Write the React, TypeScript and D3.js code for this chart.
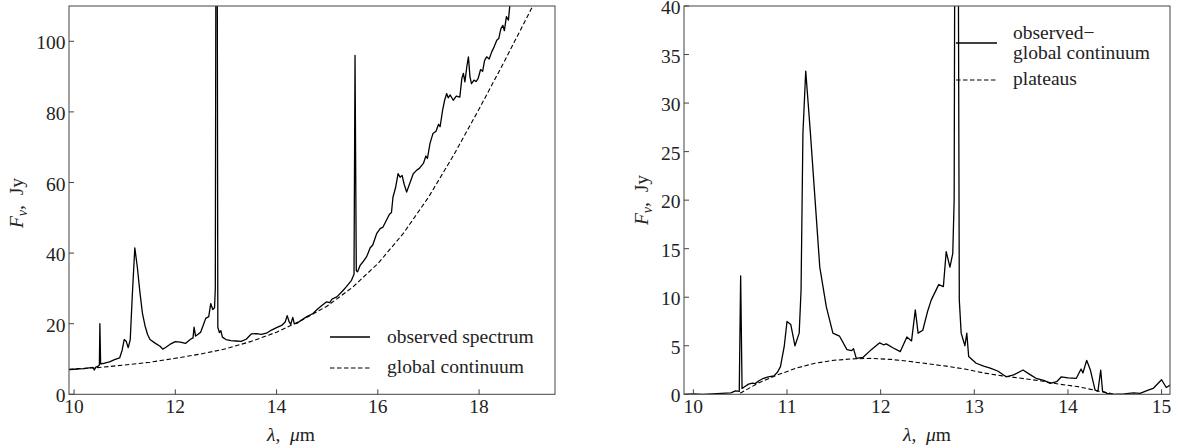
import React from "react";
import * as d3 from "d3";

// ---------- data ----------
const leftXTicks = [10, 12, 14, 16, 18];
const leftYTicks = [0, 20, 40, 60, 80, 100];
const rightXTicks = [10, 11, 12, 13, 14, 15];
const rightYTicks = [0, 5, 10, 15, 20, 25, 30, 35, 40];

const leftLegend = ["observed spectrum", "global continuum"];
const rightLegend = ["observed\u2212", "global continuum", "plateaus"];

// observed spectrum [lambda (um), F (Jy)]
const observedSpectrum: [number, number][] = [
  [9.9, 7.0], [10.0, 7.1], [10.1, 7.2], [10.2, 7.3], [10.3, 7.5], [10.37, 7.6], [10.4, 6.9], [10.43, 7.7],
  [10.48, 8.0], [10.5, 8.3], [10.51, 20.0], [10.525, 8.6], [10.6, 8.8], [10.7, 9.2], [10.8, 9.8], [10.9, 10.3],
  [10.95, 12.5], [10.99, 15.5], [11.03, 15.0], [11.07, 13.2], [11.11, 15.5], [11.15, 28], [11.2, 41.5],
  [11.25, 36], [11.3, 29], [11.35, 23], [11.4, 19.5], [11.45, 17], [11.5, 15.5], [11.6, 14.5], [11.7, 13.6],
  [11.75, 12.8], [11.8, 13.2], [11.9, 14.2], [12.0, 14.9], [12.1, 14.8], [12.2, 14.4], [12.3, 15.6],
  [12.35, 16.0], [12.37, 19.0], [12.4, 16.5], [12.45, 17.0], [12.5, 17.6], [12.55, 19.5], [12.6, 21.5],
  [12.66, 22.0], [12.7, 25.7], [12.74, 24.0], [12.775, 24.5], [12.79, 30], [12.805, 150], [12.825, 150],
  [12.84, 19], [12.87, 17.5], [12.9, 18.0], [12.93, 16.2], [13.0, 15.5], [13.1, 15.2], [13.2, 15.1],
  [13.3, 15.0], [13.4, 15.6], [13.5, 17.1], [13.6, 17.2], [13.7, 17.0], [13.8, 17.3], [13.9, 18.2],
  [14.0, 18.9], [14.1, 19.5], [14.17, 20.5], [14.21, 22.3], [14.25, 20.5], [14.28, 19.8], [14.32, 21.8],
  [14.35, 20.0], [14.4, 20.1], [14.5, 21.1], [14.6, 22.0], [14.72, 22.9], [14.8, 24.0], [14.9, 25.2],
  [14.99, 26.2], [15.05, 26.0], [15.1, 27.0], [15.19, 27.6], [15.3, 29.2], [15.38, 30.5], [15.48, 32.3],
  [15.53, 34.0], [15.55, 96], [15.575, 35.0], [15.6, 34.7], [15.65, 36.5], [15.7, 37.4], [15.78, 39.0],
  [15.85, 41.5], [15.9, 42.3], [15.98, 45.6], [16.05, 47.0], [16.1, 47.3], [16.17, 49.3], [16.23, 51.0],
  [16.27, 51.5], [16.3, 55.9], [16.35, 58.5], [16.4, 62.5], [16.44, 61.5], [16.48, 62.0], [16.52, 59.5],
  [16.57, 57.3], [16.6, 58.5], [16.65, 60.5], [16.7, 62.5], [16.77, 63.5], [16.82, 64.0], [16.9, 65.4],
  [16.95, 67.5], [16.98, 66.8], [17.03, 71.0], [17.09, 73.9], [17.15, 74.5], [17.2, 76.5], [17.23, 75.8],
  [17.28, 80.5], [17.32, 83.3], [17.36, 85.2], [17.39, 84.0], [17.43, 84.8], [17.49, 83.3], [17.55, 84.5],
  [17.62, 84.2], [17.66, 89.5], [17.69, 90.9], [17.72, 88.5], [17.76, 93.0], [17.79, 95.6], [17.82, 90.0],
  [17.85, 88.0], [17.9, 89.0], [17.94, 88.6], [17.98, 89.4], [18.03, 92.0], [18.07, 91.5], [18.11, 94.6],
  [18.15, 95.6], [18.2, 95.0], [18.25, 97.0], [18.3, 98.5], [18.35, 100.3], [18.39, 100.8], [18.43, 103.5],
  [18.47, 104.5], [18.5, 103.0], [18.54, 107.0], [18.58, 106.0], [18.61, 110.5], [18.65, 113], [18.8, 118],
];

// global continuum [lambda, F]
const globalContinuum: [number, number][] = [
  [9.9, 7.1], [10.5, 7.6], [11.0, 8.3], [11.5, 9.1], [12.0, 10.2], [12.5, 11.4], [13.0, 12.9], [13.5, 15.0],
  [14.0, 17.6], [14.5, 21.0], [15.0, 25.0], [15.5, 30.3], [16.0, 37.0], [16.5, 45.5], [17.0, 55.8],
  [17.5, 67.8], [18.0, 80.8], [18.5, 94.3], [19.0, 108.3], [19.2, 114],
];

// observed minus global continuum
const residual: [number, number][] = [
  [9.9, 0], [10.0, 0.05], [10.1, 0], [10.2, 0.05], [10.3, 0.1], [10.4, 0.15], [10.45, 0.35], [10.49, 0.3],
  [10.505, 12.2], [10.52, 0.6], [10.55, 0.8], [10.59, 1.05], [10.63, 1.15], [10.66, 1.1], [10.7, 1.4],
  [10.75, 1.65], [10.8, 1.8], [10.86, 1.9], [10.9, 2.3], [10.93, 2.85], [10.97, 4.9], [11.0, 7.5],
  [11.04, 7.2], [11.085, 5.0], [11.13, 6.3], [11.15, 10.7], [11.17, 26.9], [11.2, 33.3], [11.25, 26.9],
  [11.3, 20], [11.35, 13.1], [11.42, 9.0], [11.49, 6.3], [11.56, 6.0], [11.64, 4.6], [11.69, 4.5],
  [11.71, 4.7], [11.74, 3.7], [11.81, 3.8], [11.9, 4.6], [11.99, 5.3], [12.03, 5.1], [12.06, 5.2],
  [12.13, 4.8], [12.21, 4.4], [12.28, 5.9], [12.33, 5.5], [12.37, 8.7], [12.4, 6.3], [12.45, 6.6],
  [12.5, 8.5], [12.54, 9.7], [12.62, 11.3], [12.67, 11.1], [12.7, 14.7], [12.74, 13.1], [12.77, 14.5],
  [12.785, 20], [12.795, 60], [12.825, 60], [12.84, 9.7], [12.86, 6.3], [12.9, 5.0], [12.92, 6.3],
  [12.94, 3.9], [13.02, 3.2], [13.1, 2.9], [13.17, 2.7], [13.25, 2.4], [13.34, 1.8], [13.42, 2.0],
  [13.52, 2.5], [13.6, 2.0], [13.66, 1.65], [13.75, 1.4], [13.81, 1.13], [13.88, 1.3], [13.93, 1.8],
  [14.0, 1.7], [14.09, 1.65], [14.14, 2.6], [14.16, 2.2], [14.2, 3.5], [14.24, 2.5], [14.29, 0.44],
  [14.32, 0.3], [14.35, 2.5], [14.37, 0.3], [14.42, 0.1], [14.48, 0], [14.6, 0.05], [14.7, 0.15],
  [14.77, 0.1], [14.85, 0.4], [14.91, 0.6], [15.0, 1.5], [15.05, 0.7], [15.1, 1.0],
];

// plateaus
const plateaus: [number, number][] = [
  [10.5, 0.1], [10.7, 1.2], [10.9, 2.0], [11.1, 2.7], [11.3, 3.2], [11.5, 3.5], [11.7, 3.65], [11.9, 3.7],
  [12.1, 3.6], [12.3, 3.4], [12.5, 3.15], [12.7, 2.9], [12.9, 2.6], [13.1, 2.2], [13.3, 1.9], [13.5, 1.65],
  [13.7, 1.4], [13.9, 1.05], [14.1, 0.8], [14.3, 0.4], [14.5, 0],
];

// ---------- layout ----------
const FONT = '"Liberation Serif"';
const FS = 19.5;
const TXT = "#222";
const SPINE = "#444";
const fontStyle = { fontFamily: FONT };

type PanelProps = {
  id: string;
  left: number; right: number; top: number; bottom: number;
  xDomain: [number, number]; yDomain: [number, number];
  xTicks: number[]; yTicks: number[];
  series: { data: [number, number][]; dashed: boolean }[];
  yLabelX: number; yLabelY: number; xLabelX: number;
  legend: React.ReactNode;
};

function Panel(p: PanelProps) {
  const x = d3.scaleLinear().domain(p.xDomain).range([p.left, p.right]);
  const y = d3.scaleLinear().domain(p.yDomain).range([p.bottom, p.top]);
  const line = d3.line<[number, number]>().x((d) => x(d[0])).y((d) => y(d[1]));
  return (
    <g style={fontStyle}>
      <defs>
        <clipPath id={p.id}>
          <rect x={p.left} y={p.top} width={p.right - p.left} height={p.bottom - p.top} />
        </clipPath>
      </defs>
      <g clipPath={`url(#${p.id})`}>
        {p.series.map((s, i) => (
          <path key={i} d={line(s.data) || ""} fill="none" stroke="#000"
            strokeWidth={s.dashed ? 1.1 : 1.3} strokeDasharray={s.dashed ? "4.5,2.5" : undefined}
            strokeLinejoin="round" />
        ))}
      </g>
      <rect x={p.left} y={p.top} width={p.right - p.left} height={p.bottom - p.top}
        fill="none" stroke={SPINE} strokeWidth={1} />
      {p.xTicks.map((t) => (
        <g key={"x" + t}>
          <line x1={x(t)} x2={x(t)} y1={p.bottom} y2={p.bottom - 5} stroke={SPINE} strokeWidth={1} />
          <text x={x(t)} y={p.bottom + 19} textAnchor="middle" style={fontStyle} fontSize={FS} fill={TXT}>{t}</text>
        </g>
      ))}
      {p.yTicks.map((t) => (
        <g key={"y" + t}>
          <line x1={p.left} x2={p.left + 5} y1={y(t)} y2={y(t)} stroke={SPINE} strokeWidth={1} />
          <text x={p.left - 3.5} y={y(t) + 8} textAnchor="end" style={fontStyle} fontSize={FS} fill={TXT}>{t}</text>
        </g>
      ))}
      <text x={p.xLabelX} y={441} textAnchor="middle" style={fontStyle} fontSize={FS} fill={TXT}>
        <tspan fontStyle="italic">λ</tspan>{",\u2002"}<tspan fontStyle="italic">μ</tspan>m
      </text>
      <text transform={`translate(${p.yLabelX},${p.yLabelY}) rotate(-90)`} textAnchor="middle"
        style={fontStyle} fontSize={FS} fill={TXT}>
        <tspan fontStyle="italic">F</tspan>
        <tspan fontStyle="italic" fontSize={14} dy={4}>ν</tspan>
        <tspan dy={-4}>{",\u2002Jy"}</tspan>
      </text>
      {p.legend}
    </g>
  );
}

export default function App() {
  const leftLeg = (
    <g style={fontStyle} fontSize={FS} fill={TXT}>
      <line x1={330} x2={370} y1={337} y2={337} stroke="#000" strokeWidth={1.3} />
      <text x={387} y={343} style={fontStyle}>{leftLegend[0]}</text>
      <line x1={330} x2={370} y1={368} y2={368} stroke="#000" strokeWidth={1.1} strokeDasharray="4.5,2.5" />
      <text x={387} y={373} style={fontStyle}>{leftLegend[1]}</text>
    </g>
  );
  const rightLeg = (
    <g style={fontStyle} fontSize={FS} fill={TXT}>
      <line x1={956} x2={997} y1={43} y2={43} stroke="#000" strokeWidth={1.3} />
      <text x={1013} y={38.5} style={fontStyle}>{rightLegend[0]}</text>
      <text x={1013} y={58.5} style={fontStyle}>{rightLegend[1]}</text>
      <line x1={956} x2={997} y1={80} y2={80} stroke="#000" strokeWidth={1.1} strokeDasharray="4.5,2.5" />
      <text x={1013} y={85} style={fontStyle}>{rightLegend[2]}</text>
    </g>
  );
  return (
    <svg width={1179} height={448} style={{ position: "absolute", left: 0, top: 0, background: "#fff" }}>
      <Panel id="clipL" left={69} right={555} top={6} bottom={394.3}
        xDomain={[9.9, 19.5]} yDomain={[0, 110]} xTicks={leftXTicks} yTicks={leftYTicks}
        series={[{ data: observedSpectrum, dashed: false }, { data: globalContinuum, dashed: true }]}
        yLabelX={23} yLabelY={203} xLabelX={291} legend={leftLeg} />
      <Panel id="clipR" left={684} right={1170} top={6} bottom={394.3}
        xDomain={[9.9, 15.09]} yDomain={[0, 40]} xTicks={rightXTicks} yTicks={rightYTicks}
        series={[{ data: residual, dashed: false }, { data: plateaus, dashed: true }]}
        yLabelX={648} yLabelY={200} xLabelX={927} legend={rightLeg} />
    </svg>
  );
}
